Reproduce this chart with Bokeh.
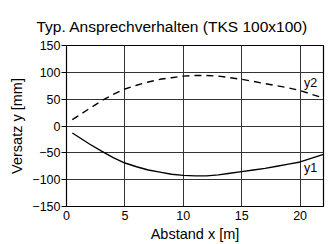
from bokeh.plotting import figure
from bokeh.models import Range1d, FixedTicker
from bokeh.core.properties import value
from bokeh.embed import file_html
from bokeh.resources import INLINE

# data
x_vals = [0.5, 1, 2, 3, 4, 5, 6, 7, 8, 9, 10, 11, 12, 13, 14, 15, 16, 17, 18, 19, 20, 21, 22]
y2_vals = [12, 19, 33, 47, 59, 69, 76, 82, 87, 90, 93, 94, 94, 93, 90, 87, 83, 79, 75, 71, 66, 59, 52]
y1_vals = [-13, -20, -34, -47, -59, -69, -76, -82, -86, -90, -92, -93, -93, -91, -88, -85, -82, -79, -75, -71, -67, -60, -53]
x_ticks = [0, 5, 10, 15, 20]
y_ticks = [-150, -100, -50, 0, 50, 100, 150]
series_labels = ["y2", "y1"]
label_x = [20.9, 20.9]
label_y = [80, -79]
title_text = "Typ. Ansprechverhalten (TKS 100x100)"

FONT = "Liberation Sans"

p = figure(width=331, height=244, output_backend="svg", toolbar_location=None,
           x_range=Range1d(0, 22), y_range=Range1d(-150, 150),
           min_border_left=66, min_border_right=8, min_border_top=45, min_border_bottom=33,
           title=title_text)
p.title.align = "left"
p.title.offset = -30
p.title.text_font = FONT
p.title.text_font_size = "15.5px"
p.title.text_font_style = "normal"
p.title.text_color = "black"
p.title.standoff = 22

p.background_fill_color = "white"
p.border_fill_color = "white"
p.outline_line_color = "black"
p.outline_line_width = 1.2

for ax in (p.xaxis[0], p.yaxis[0]):
    ax.axis_line_color = "black"
    ax.major_tick_line_color = "black"
    ax.major_tick_out = 5
    ax.major_tick_in = 0
    ax.minor_tick_line_color = None
    ax.major_label_text_font = FONT
    ax.major_label_text_font_size = "12.5px"
    ax.major_label_text_color = "black"
    ax.axis_label_text_font = FONT
    ax.axis_label_text_font_size = "14.5px"
    ax.axis_label_text_font_style = "normal"
    ax.axis_label_text_color = "black"

p.xaxis.ticker = FixedTicker(ticks=x_ticks)
p.yaxis.ticker = FixedTicker(ticks=y_ticks)
p.xaxis.axis_label = "Abstand x [m]"
p.yaxis.axis_label = "Versatz y [mm]"
p.xaxis.major_tick_out = 0
p.xaxis.major_label_standoff = 4
p.yaxis.major_label_standoff = 1
p.xaxis.axis_label_standoff = 3
p.yaxis.axis_label_standoff = 4

p.grid.grid_line_color = "#333333"
p.grid.grid_line_width = 1
p.xgrid.ticker = FixedTicker(ticks=x_ticks)
p.ygrid.ticker = FixedTicker(ticks=y_ticks)

p.line(x_vals, y2_vals, line_color="black", line_width=1.4, line_dash="7 5")
p.line(x_vals, y1_vals, line_color="black", line_width=1.4)

p.text(x=label_x, y=label_y, text=series_labels, text_font=value(FONT),
       text_font_size="12.5px", text_align="center", text_baseline="middle",
       text_color="black")

open("out.html", "w").write(file_html(p, INLINE))
